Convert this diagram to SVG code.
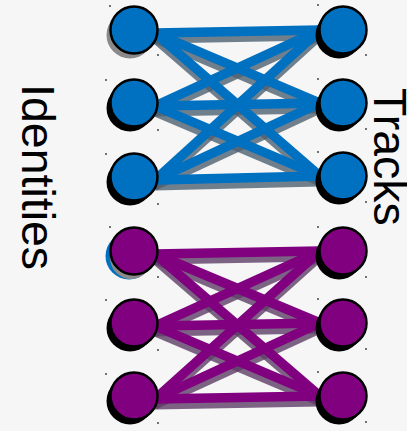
<svg xmlns="http://www.w3.org/2000/svg" width="407" height="431" viewBox="0 0 407 431">
  <defs>
    <style>
      .lbl { font-family: "Liberation Sans", Arial, sans-serif; font-size: 46.5px; fill: #000; }
      .edge-b { stroke: #0070c0; stroke-width: 9.5; stroke-linecap: butt; fill: none; }
      .edge-p { stroke: #800080; stroke-width: 9.5; stroke-linecap: butt; fill: none; }
      .shadow { stroke: #4f6272; stroke-opacity: 0.8; stroke-width: 7; fill: none; }
      .shadow-p { stroke: #5e3f66; stroke-opacity: 0.8; stroke-width: 7; fill: none; }
      .ring-b { fill: #0070c0; stroke: #000; stroke-width: 2.5; }
      .ring-p { fill: #800080; stroke: #000; stroke-width: 2.5; }
      .gshadow { fill: #8a8a8a; }
      .kshadow { fill: #000; }
      .dot { fill: #333; }
    </style>
  </defs>

  <rect width="407" height="431" fill="#f6f6f6"/>

  <!-- connectors: every identity is joined to every track -->
  <g id="connectors">
    <g class="shadow" transform="translate(0,7)">
      <line x1="155" y1="33" x2="320" y2="30"/>
      <line x1="155" y1="33" x2="320" y2="103"/>
      <line x1="155" y1="33" x2="320" y2="176"/>
      <line x1="155" y1="106" x2="320" y2="30"/>
      <line x1="155" y1="106" x2="320" y2="103"/>
      <line x1="155" y1="106" x2="320" y2="176"/>
      <line x1="155" y1="180" x2="320" y2="30"/>
      <line x1="155" y1="180" x2="320" y2="103"/>
      <line x1="155" y1="180" x2="320" y2="176"/>
    </g>
    <g class="edge-b">
      <line x1="155" y1="33" x2="320" y2="30"/>
      <line x1="155" y1="33" x2="320" y2="103"/>
      <line x1="155" y1="33" x2="320" y2="176"/>
      <line x1="155" y1="106" x2="320" y2="30"/>
      <line x1="155" y1="106" x2="320" y2="103"/>
      <line x1="155" y1="106" x2="320" y2="176"/>
      <line x1="155" y1="180" x2="320" y2="30"/>
      <line x1="155" y1="180" x2="320" y2="103"/>
      <line x1="155" y1="180" x2="320" y2="176"/>
    </g>
    <g class="shadow-p" transform="translate(0,7)">
      <line x1="155" y1="254" x2="320" y2="251"/>
      <line x1="155" y1="254" x2="320" y2="323"/>
      <line x1="155" y1="254" x2="320" y2="396"/>
      <line x1="155" y1="326" x2="320" y2="251"/>
      <line x1="155" y1="326" x2="320" y2="323"/>
      <line x1="155" y1="326" x2="320" y2="396"/>
      <line x1="155" y1="399" x2="320" y2="251"/>
      <line x1="155" y1="399" x2="320" y2="323"/>
      <line x1="155" y1="399" x2="320" y2="396"/>
    </g>
    <g class="edge-p">
      <line x1="155" y1="254" x2="320" y2="251"/>
      <line x1="155" y1="254" x2="320" y2="323"/>
      <line x1="155" y1="254" x2="320" y2="396"/>
      <line x1="155" y1="326" x2="320" y2="251"/>
      <line x1="155" y1="326" x2="320" y2="323"/>
      <line x1="155" y1="326" x2="320" y2="396"/>
      <line x1="155" y1="399" x2="320" y2="251"/>
      <line x1="155" y1="399" x2="320" y2="323"/>
      <line x1="155" y1="399" x2="320" y2="396"/>
    </g>
  </g>

  <!-- identity nodes (left) -->
  <g id="id1"><circle class="gshadow" cx="130" cy="35" r="23.5"/><circle class="ring-b" cx="134" cy="30" r="23.5"/></g>
  <g id="id2"><circle class="kshadow" cx="130" cy="108" r="23.5"/><circle class="ring-b" cx="134" cy="103" r="23.5"/></g>
  <g id="id3"><circle class="kshadow" cx="130" cy="182" r="23.5"/><circle class="ring-b" cx="134" cy="177" r="23.5"/></g>
  <g id="id4"><circle fill="#0070c0" cx="129" cy="256" r="23.5"/><circle class="gshadow" cx="131" cy="258" r="21"/><circle class="ring-p" cx="134" cy="251" r="23.5"/></g>
  <g id="id5"><circle class="kshadow" cx="130" cy="328" r="23.5"/><circle class="ring-p" cx="134" cy="323" r="23.5"/></g>
  <g id="id6"><circle class="kshadow" cx="130" cy="401" r="23.5"/><circle class="ring-p" cx="134" cy="396" r="23.5"/></g>

  <!-- track nodes (right) -->
  <g id="tr1"><circle class="kshadow" cx="339" cy="35" r="23.5"/><circle class="ring-b" cx="343" cy="30" r="23.5"/></g>
  <g id="tr2"><circle class="kshadow" cx="339" cy="108" r="23.5"/><circle class="ring-b" cx="343" cy="103" r="23.5"/></g>
  <g id="tr3"><circle class="kshadow" cx="339" cy="181" r="23.5"/><circle class="ring-b" cx="343" cy="176" r="23.5"/></g>
  <g id="tr4"><circle class="kshadow" cx="339" cy="256" r="23.5"/><circle class="ring-p" cx="343" cy="251" r="23.5"/></g>
  <g id="tr5"><circle class="kshadow" cx="339" cy="328" r="23.5"/><circle class="ring-p" cx="343" cy="323" r="23.5"/></g>
  <g id="tr6"><circle class="kshadow" cx="339" cy="401" r="23.5"/><circle class="ring-p" cx="343" cy="396" r="23.5"/></g>

  <!-- small handle specks around nodes -->
  <g class="dot">
    <circle cx="110" cy="6" r="0.9"/><circle cx="158" cy="55" r="0.9"/>
    <circle cx="106" cy="80" r="0.9"/><circle cx="158" cy="130" r="0.9"/>
    <circle cx="106" cy="154" r="0.9"/><circle cx="158" cy="204" r="0.9"/>
    <circle cx="110" cy="227" r="0.9"/><circle cx="158" cy="277" r="0.9"/>
    <circle cx="106" cy="300" r="0.9"/><circle cx="158" cy="350" r="0.9"/>
    <circle cx="106" cy="374" r="0.9"/><circle cx="158" cy="423" r="0.9"/>
    <circle cx="318" cy="5" r="0.9"/><circle cx="366" cy="55" r="0.9"/>
    <circle cx="318" cy="79" r="0.9"/><circle cx="366" cy="129" r="0.9"/>
    <circle cx="318" cy="152" r="0.9"/><circle cx="366" cy="202" r="0.9"/>
    <circle cx="318" cy="227" r="0.9"/><circle cx="366" cy="277" r="0.9"/>
    <circle cx="318" cy="299" r="0.9"/><circle cx="366" cy="349" r="0.9"/>
    <circle cx="318" cy="372" r="0.9"/><circle cx="366" cy="422" r="0.9"/>
  </g>

  <!-- side labels -->
  <g id="label-identities"><text class="lbl" transform="translate(22,84) rotate(90)">Identities</text></g>
  <g id="label-tracks"><text class="lbl" transform="translate(374,88) rotate(90)">Tracks</text></g>
</svg>
